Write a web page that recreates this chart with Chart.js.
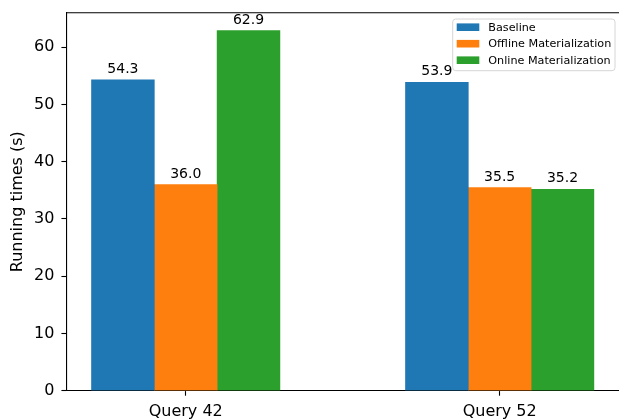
<!DOCTYPE html>
<html>
<head>
<meta charset="utf-8">
<script src="https://cdn.jsdelivr.net/npm/chart.js@4.4.1/dist/chart.umd.min.js"></script>
<style>
  html, body { margin: 0; padding: 0; background: #ffffff; }
  canvas { display: block; }
</style>
</head>
<body>
<canvas id="chart" width="619" height="419"></canvas>
<script>
// Query categories and running times (seconds) per strategy
const categories = ['Query 42', 'Query 52'];
const seriesNames = ['Baseline', 'Offline Materialization', 'Online Materialization'];
const baseline = [54.3, 53.9];
const offline = [36.0, 35.5];
const online = [62.9, 35.2];
const yTicks = [0, 10, 20, 30, 40, 50, 60];

const colors = ['#1f77b4', '#ff7f0e', '#2ca02c'];
const series = [baseline, offline, online];
const BAR_W = 0.2;           // bar width in category units
const FONT = "'DejaVu Sans', 'Liberation Sans', sans-serif";

Chart.defaults.font.family = FONT;
Chart.defaults.color = '#000';

const datasets = series.map((vals, k) => ({
  label: seriesNames[k],
  backgroundColor: colors[k],
  borderWidth: 0,
  grouped: false,
  barPercentage: 1,
  categoryPercentage: 1,
  data: vals.map((v, i) => ({ x: i + (k - 1) * BAR_W, y: v }))
}));

const allValues = series.flat();
const yMax = Math.max(...allValues) * 1.05;

// top spine of the axes frame
const framePlugin = {
  id: 'frame',
  afterDraw(chart) {
    const { ctx, chartArea: a } = chart;
    ctx.save();
    ctx.strokeStyle = '#000';
    ctx.lineWidth = 1.1;
    ctx.beginPath();
    ctx.moveTo(a.left, a.top);
    ctx.lineTo(a.right, a.top);
    ctx.stroke();
    ctx.restore();
  }
};

// numeric labels above each bar
const valueLabels = {
  id: 'valueLabels',
  afterDatasetsDraw(chart) {
    const { ctx } = chart;
    ctx.save();
    ctx.fillStyle = '#000';
    ctx.font = '14px ' + FONT;
    ctx.textAlign = 'center';
    ctx.textBaseline = 'alphabetic';
    chart.data.datasets.forEach((ds, k) => {
      const meta = chart.getDatasetMeta(k);
      meta.data.forEach((el, i) => {
        ctx.fillText(ds.data[i].y.toFixed(1), el.x, el.y - 7);
      });
    });
    ctx.restore();
  }
};

// legend box in the upper right corner
const boxLegend = {
  id: 'boxLegend',
  afterDraw(chart) {
    const { ctx } = chart;
    const x0 = 452.7, y0 = 19, w = 162.3, h = 51.7, r = 3;
    ctx.save();
    ctx.beginPath();
    ctx.moveTo(x0 + r, y0);
    ctx.lineTo(x0 + w - r, y0);
    ctx.arcTo(x0 + w, y0, x0 + w, y0 + r, r);
    ctx.lineTo(x0 + w, y0 + h - r);
    ctx.arcTo(x0 + w, y0 + h, x0 + w - r, y0 + h, r);
    ctx.lineTo(x0 + r, y0 + h);
    ctx.arcTo(x0, y0 + h, x0, y0 + h - r, r);
    ctx.lineTo(x0, y0 + r);
    ctx.arcTo(x0, y0, x0 + r, y0, r);
    ctx.closePath();
    ctx.fillStyle = 'rgba(255,255,255,0.8)';
    ctx.fill();
    ctx.strokeStyle = '#d6d6d6';
    ctx.lineWidth = 1;
    ctx.stroke();

    ctx.font = '11.2px ' + FONT;
    ctx.textAlign = 'left';
    ctx.textBaseline = 'middle';
    chart.data.datasets.forEach((ds, k) => {
      const cy = 27.2 + k * 16.5;
      ctx.fillStyle = ds.backgroundColor;
      ctx.fillRect(456.7, cy - 3.8, 22.6, 7.6);
      ctx.fillStyle = '#000';
      ctx.fillText(ds.label, 488.3, cy + 0.5);
    });
    ctx.restore();
  }
};

new Chart(document.getElementById('chart'), {
  type: 'bar',
  data: { datasets },
  options: {
    responsive: false,
    devicePixelRatio: 1,
    animation: false,
    layout: { padding: { top: 12.7, right: -2, bottom: 0, left: 0 } },
    plugins: { legend: { display: false }, tooltip: { enabled: false } },
    scales: {
      x: {
        type: 'linear',
        offset: false,
        min: -0.38,
        max: 1.38,
        afterBuildTicks(scale) {
          scale.ticks = categories.map((_, i) => ({ value: i }));
        },
        afterFit(scale) {
          scale.height = 28.3;
          scale.paddingLeft = 0;
          scale.paddingRight = 0;
        },
        ticks: {
          callback: (v) => categories[v] ?? '',
          font: { size: 16 },
          color: '#000',
          padding: 7,
          autoSkip: false,
          maxRotation: 0
        },
        grid: { offset: false, drawOnChartArea: false, drawTicks: true, tickLength: 5, color: '#000', tickWidth: 1.1 },
        border: { display: true, color: '#000', width: 1.1 }
      },
      y: {
        min: 0,
        max: yMax,
        afterBuildTicks(scale) {
          scale.ticks = yTicks.map(v => ({ value: v }));
        },
        afterFit(scale) {
          scale.width = 66.4;
          scale.paddingTop = 0;
          scale.paddingBottom = 0;
        },
        ticks: { font: { size: 16 }, color: '#000', padding: 7 },
        grid: { drawOnChartArea: false, drawTicks: true, tickLength: 5, color: '#000', tickWidth: 1.1 },
        border: { display: true, color: '#000', width: 1.1 },
        title: {
          display: true,
          text: 'Running times (s)',
          font: { size: 16 },
          color: '#000',
          padding: { top: 8.7, bottom: 0 }
        }
      }
    }
  },
  plugins: [framePlugin, valueLabels, boxLegend]
});
</script>
</body>
</html>
